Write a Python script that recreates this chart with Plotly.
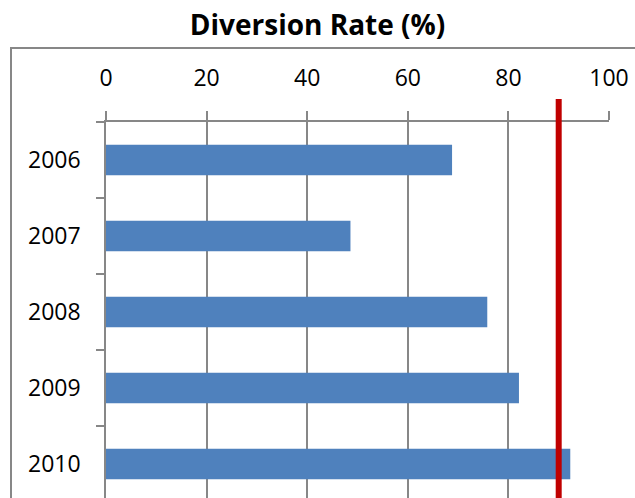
import plotly.graph_objects as go

years = ["2006", "2007", "2008", "2009", "2010"]
rates = [68.8, 48.6, 75.8, 82.1, 92.3]
target = 90
x_ticks = [0, 20, 40, 60, 80, 100]

W, H = 635, 498
L, R, T, B = 106, 26, 122, 0
ph = H - T - B
pw = W - L - R

fig = go.Figure()
fig.add_trace(go.Bar(
    y=years, x=rates, orientation="h",
    marker=dict(color="#4F81BD", line=dict(width=0)),
    width=0.4, hoverinfo="x+y",
))

gray = "#878787"
# outer chart frame
fig.add_shape(type="rect", xref="paper", yref="paper",
              x0=(11 - L) / pw, x1=1.2, y0=-0.2, y1=1 + (T - 48) / ph,
              line=dict(color=gray, width=2), fillcolor="rgba(0,0,0,0)", layer="below")
# target line
fig.add_shape(type="line", xref="x", yref="paper",
              x0=target, x1=target, y0=-0.1, y1=1 + (T - 99) / ph,
              line=dict(color="#C00000", width=6))

fig.update_layout(
    width=W, height=H,
    margin=dict(l=L, r=R, t=T, b=B),
    paper_bgcolor="white", plot_bgcolor="white",
    showlegend=False,
    font=dict(family="Open Sans", color="black"),
    title=dict(text="<b>Diversion Rate (%)</b>", x=0.5, xanchor="center",
               y=1 - 25 / H, yanchor="middle", font=dict(size=28, family="Open Sans")),
    xaxis=dict(side="top", range=[0, 100], tickvals=x_ticks, ticktext=[str(v) for v in x_ticks],
               showgrid=True, gridcolor=gray, gridwidth=1.5,
               showline=True, linecolor=gray, linewidth=1.5,
               ticks="outside", ticklen=9, tickcolor=gray, tickwidth=1.5,
               ticklabelstandoff=16, tickfont=dict(size=23), zeroline=False, fixedrange=True),
    yaxis=dict(type="category", categoryorder="array", categoryarray=years,
               range=[4.5 - 4 / 76, -0.5],
               showline=True, linecolor=gray, linewidth=1.5,
               ticks="outside", ticklen=8, tickcolor=gray, tickwidth=1.5, tickson="boundaries",
               ticklabelstandoff=19, tickfont=dict(size=23), showgrid=False, zeroline=False,
               fixedrange=True),
)

fig.write_html("out.html")
